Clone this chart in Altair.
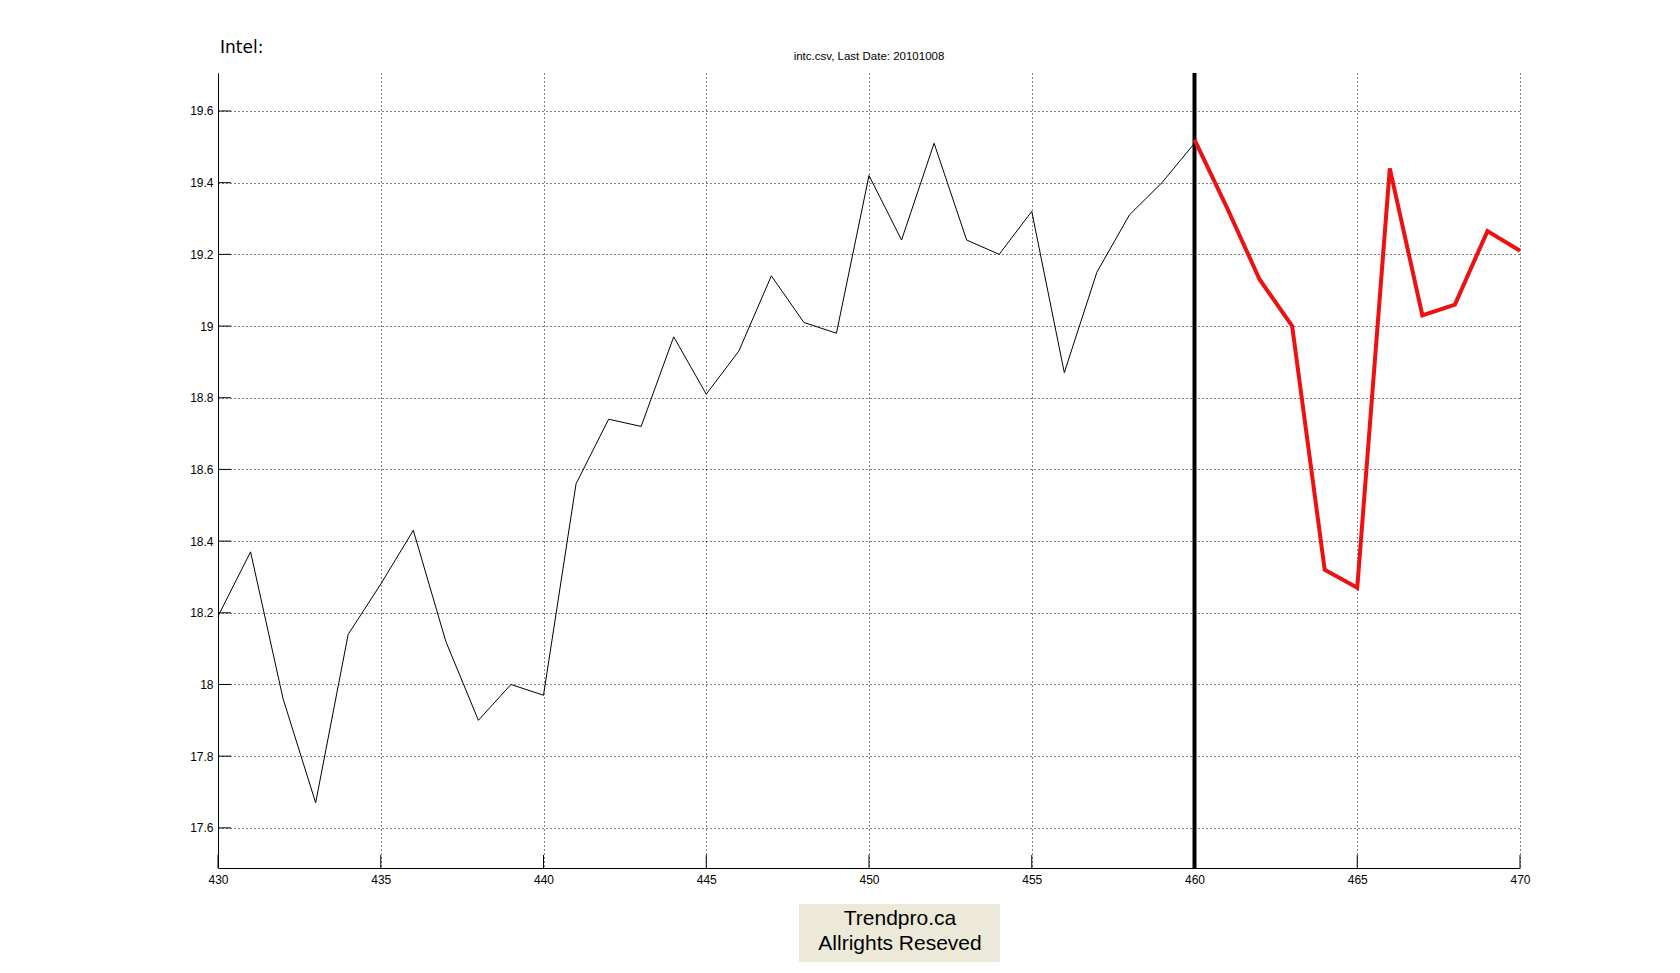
import altair as alt
import pandas as pd

# ---- data ----
hist_x = list(range(430, 461))
hist_y = [18.19, 18.37, 17.96, 17.67, 18.14, 18.28, 18.43, 18.12, 17.90, 18.00,
          17.97, 18.56, 18.74, 18.72, 18.97, 18.81, 18.93, 19.14, 19.01, 18.98,
          19.42, 19.24, 19.51, 19.24, 19.20, 19.32, 18.87, 19.15, 19.31, 19.40,
          19.51]
fc_x = list(range(460, 471))
fc_y = [19.52, 19.33, 19.13, 19.00, 18.32, 18.27, 19.44, 19.03, 19.06, 19.265, 19.21]
split_x = [460]
x_ticks = [430, 435, 440, 445, 450, 455, 460, 465, 470]
y_ticks = [17.6, 17.8, 18.0, 18.2, 18.4, 18.6, 18.8, 19.0, 19.2, 19.4, 19.6]
title_text = "intc.csv, Last Date: 20101008"
label_text = "Intel:"
footer_lines = ["Trendpro.ca", "Allrights Reseved"]

W, H = 1302, 795
FONT = "Liberation Sans"

hist = pd.DataFrame({"x": hist_x, "y": hist_y})
fc = pd.DataFrame({"x": fc_x, "y": fc_y})
split = pd.DataFrame({"x": split_x})
xt = pd.DataFrame({"x": x_ticks})
yt = pd.DataFrame({"y": y_ticks})

xscale = alt.Scale(domain=[430, 470], nice=False, zero=False)
yscale = alt.Scale(domain=[17.488, 19.706], nice=False, zero=False)

xaxis = alt.Axis(values=x_ticks, grid=True, gridColor="black", gridDash=[1, 3],
                 gridWidth=1, gridOpacity=1, ticks=False, tickSize=0,
                 domainColor="black", domainWidth=1, labelFont=FONT,
                 labelFontSize=12, labelColor="black", labelPadding=6,
                 title=None, labelFlush=False)
yaxis = alt.Axis(values=y_ticks, grid=True, gridColor="black", gridDash=[1, 3],
                 gridWidth=1, gridOpacity=1, ticks=False, tickSize=0,
                 domainColor="black", domainWidth=1, labelFont=FONT,
                 labelFontSize=12, labelColor="black", labelPadding=5,
                 format=".3~g", title=None, labelFlush=False)

base_hist = alt.Chart(hist).mark_line(color="black", strokeWidth=1).encode(
    x=alt.X("x:Q", scale=xscale, axis=xaxis),
    y=alt.Y("y:Q", scale=yscale, axis=yaxis),
)

fc_line = alt.Chart(fc).mark_line(color="#ee1111", strokeWidth=4, strokeJoin="miter").encode(
    x=alt.X("x:Q", scale=xscale),
    y=alt.Y("y:Q", scale=yscale),
)

split_rule = alt.Chart(split).mark_rule(color="black", strokeWidth=4).encode(
    x=alt.X("x:Q", scale=xscale),
)

# inward ticks (MATLAB style)
ytick_marks = alt.Chart(yt).mark_rule(color="black", strokeWidth=1).encode(
    y=alt.Y("y:Q", scale=yscale),
    x=alt.value(0), x2=alt.value(13),
)
xtick_marks = alt.Chart(xt).mark_rule(color="black", strokeWidth=1).encode(
    x=alt.X("x:Q", scale=xscale),
    y=alt.value(H - 13), y2=alt.value(H),
)

title_mark = alt.Chart(pd.DataFrame({"t": [title_text]})).mark_text(
    font=FONT, fontSize=11.5, color="black", align="center", baseline="middle"
).encode(x=alt.value(W / 2), y=alt.value(-16), text="t:N")

label_mark = alt.Chart(pd.DataFrame({"t": [label_text]})).mark_text(
    font="DejaVu Sans", fontSize=17, color="black", align="left", baseline="middle"
).encode(x=alt.value(2), y=alt.value(-25), text="t:N")

footer_box = alt.Chart(pd.DataFrame({"k": [0]})).mark_rect(color="#ECE9D8").encode(
    x=alt.value(581), x2=alt.value(782), y=alt.value(H + 36), y2=alt.value(H + 110),
)
footer_1 = alt.Chart(pd.DataFrame({"t": [footer_lines[0]]})).mark_text(
    font=FONT, fontSize=21, color="black", align="center", baseline="middle"
).encode(x=alt.value(682), y=alt.value(H + 51), text="t:N")
footer_2 = alt.Chart(pd.DataFrame({"t": [footer_lines[1]]})).mark_text(
    font=FONT, fontSize=21, color="black", align="center", baseline="middle"
).encode(x=alt.value(682), y=alt.value(H + 76), text="t:N")

chart = alt.layer(
    base_hist, split_rule, fc_line, ytick_marks, xtick_marks,
    title_mark, label_mark, footer_box, footer_1, footer_2,
).properties(
    width=W, height=H,
    autosize=alt.AutoSizeParams(type="none"),
    padding={"left": 210, "top": 65, "right": 150, "bottom": 94},
    background="white",
).configure_view(stroke=None)

chart.save("out.html", embed_options={"renderer": "svg", "actions": False})
